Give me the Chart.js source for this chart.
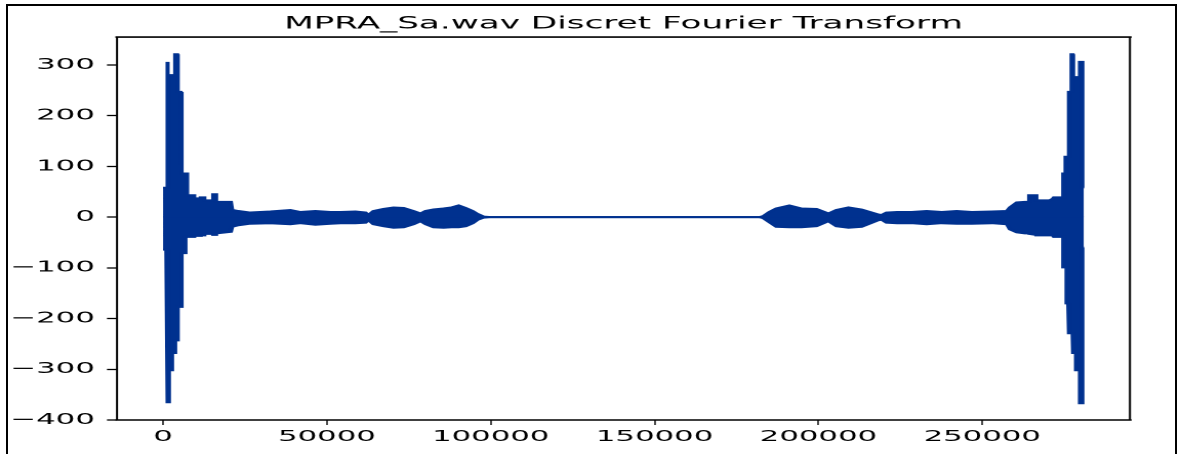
<!DOCTYPE html>
<html>
<head>
<meta charset="utf-8">
<script src="https://cdn.jsdelivr.net/npm/chart.js@4.4.1/dist/chart.umd.min.js"></script>
<style>
  html, body { margin: 0; padding: 0; background: #fff; overflow: hidden; }
  #stage { position: absolute; left: 0; top: 0; width: 576px; height: 454px; transform: scaleX(2.0503); transform-origin: 0 0; }
  #frame { position: absolute; left: 6px; top: 4px; width: 1171px; height: 520px; border: 2px solid #000; box-sizing: border-box; pointer-events: none; }
</style>
</head>
<body>
<div id="stage"><canvas id="c" width="576" height="454"></canvas></div>
<div id="frame"></div>
<script>
// ---- data (DFT envelope: bin index, upper / lower extent) ----
const chartTitle = 'MPRA_Sa.wav Discret Fourier Transform';
const binIndex = [
  0, 1000, 1001, 1450, 1451, 1530, 1531, 1800, 1801, 2750, 2751, 3550, 3551, 3780, 3781, 4290, 4291, 4590, 4591, 5310, 5311, 5820, 5821, 6840, 6841, 7350, 7351,
  9500, 9501, 11500, 11501, 12600, 12601, 15300, 15301, 16200, 16201, 20700, 21100, 22935,
  26605, 32721, 38837, 41895, 46482, 51069, 54127, 58714, 61772, 62689, 64218, 67276, 70334, 73392, 76450, 78591, 80120, 82566, 85624, 88000, 90211, 92352, 94493, 96021, 97856, 99996,
  181951, 183174, 185009, 187150, 191125, 194795, 199382, 203051, 205498, 209167, 213143, 218341, 219259, 220788, 224000, 228433, 233020, 237607, 242194, 246781, 252897, 257484,
  258401, 260542, 263000, 264300, 264301, 266500, 266501, 270600, 271500, 271856, 274700,
  274701, 275400, 275401, 275710, 275711, 276230, 276231, 276540, 276541, 277240, 277241, 277550, 277551, 277790, 277791, 278590, 278591, 279800, 279801, 280540, 280541, 281000
];
const envUpper = [
  58, 58, 306, 306, 306, 306, 280, 280, 280, 280, 280, 280, 321, 321, 321, 321, 247, 247, 247, 247, 119, 119, 86, 86, 86, 86, 43,
  43, 37, 37, 39, 39, 33, 33, 45, 45, 30, 30, 14, 12,
  9, 11, 14, 10, 12, 10, 10, 11, 9, 4, 12, 16, 19, 18, 12, 7, 12, 15, 17, 19, 23, 18, 12, 6, 1, 0,
  0, 2, 10, 17, 23, 17, 16, 7, 14, 19, 15, 5, 4, 9, 10, 10, 12, 10, 12, 10, 11, 12,
  19, 29, 30, 30, 43, 43, 33, 33, 36, 39, 39,
  86, 86, 119, 119, 119, 119, 247, 247, 247, 247, 321, 321, 321, 321, 276, 276, 276, 276, 306, 306, 58, 58
];
const envLower = [
  -64, -64, -306, -306, -365, -365, -365, -365, -302, -302, -268, -268, -268, -268, -243, -243, -243, -243, -177, -177, -98, -98, -71, -71, -39, -39, -39,
  -39, -37, -37, -36, -36, -33, -33, -35, -35, -32, -29, -19, -16,
  -13, -12, -14, -12, -15, -13, -12, -12, -11, -6, -14, -18, -21, -20, -14, -8, -14, -20, -21, -20, -20, -18, -12, -5, -1, 0,
  0, -2, -10, -19, -20, -20, -18, -8, -18, -21, -19, -6, -5, -11, -12, -12, -14, -12, -13, -13, -12, -14,
  -24, -30, -32, -32, -33, -35, -36, -36, -36, -39, -39,
  -99, -99, -99, -99, -170, -170, -170, -170, -229, -229, -229, -229, -268, -268, -268, -268, -302, -302, -367, -367, -60, -60
];
const xTickValues = [0, 50000, 100000, 150000, 200000, 250000];
const yTickValues = [-400, -300, -200, -100, 0, 100, 200, 300];
const xRange = [-14050, 295050];
const yRange = [-400, 355];

const lineColor = '#00318f';
const fontSpec = { family: 'DejaVu Sans', size: 15 };

const upperPts = binIndex.map((x, i) => ({ x: x, y: envUpper[i] }));
const lowerPts = binIndex.map((x, i) => ({ x: x, y: envLower[i] }));

const spines = {
  id: 'spines',
  afterDatasetsDraw(chart) {
    const { ctx, chartArea: { left, right, top, bottom } } = chart;
    ctx.save();
    ctx.strokeStyle = '#000';
    ctx.lineCap = 'square';
    ctx.lineWidth = 1.6;
    ctx.beginPath();
    ctx.moveTo(left, top); ctx.lineTo(right, top);
    ctx.moveTo(left, bottom); ctx.lineTo(right, bottom);
    ctx.stroke();
    ctx.lineWidth = 1.0;
    ctx.beginPath();
    ctx.moveTo(left, top); ctx.lineTo(left, bottom);
    ctx.moveTo(right, top); ctx.lineTo(right, bottom);
    ctx.stroke();
    ctx.restore();
  }
};

const fmt = v => (v < 0 ? '\u2212' + Math.abs(v) : String(v));
const seriesStyle = { borderColor: lineColor, backgroundColor: lineColor, borderWidth: 2, pointRadius: 0, tension: 0 };

new Chart(document.getElementById('c'), {
  type: 'line',
  data: {
    datasets: [
      Object.assign({ label: 'DFT upper', data: upperPts, fill: 'origin' }, seriesStyle),
      Object.assign({ label: 'DFT lower', data: lowerPts, fill: { value: 1.5 } }, seriesStyle)
    ]
  },
  options: {
    responsive: false,
    devicePixelRatio: 2,
    animation: false,
    layout: { padding: { left: 0, right: 24.9, top: 0, bottom: 0 } },
    plugins: {
      legend: { display: false },
      tooltip: { enabled: false },
      title: {
        display: true, text: chartTitle, fullSize: false, color: '#000',
        font: { family: 'DejaVu Sans', size: 16.7, weight: 'normal', lineHeight: 1.2 },
        padding: { top: 14, bottom: 3 }
      }
    },
    scales: {
      x: {
        type: 'linear', min: xRange[0], max: xRange[1],
        afterBuildTicks: s => { s.ticks = xTickValues.map(v => ({ value: v })); },
        afterFit: s => { s.height = 34; },
        ticks: { color: '#000', font: fontSpec, padding: 3, maxRotation: 0, autoSkip: false, callback: v => fmt(v) },
        grid: { drawOnChartArea: false, drawTicks: true, tickLength: 5, tickColor: '#000', tickWidth: 0.7 },
        border: { display: false }
      },
      y: {
        type: 'linear', min: yRange[0], max: yRange[1],
        afterBuildTicks: s => { s.ticks = yTickValues.map(v => ({ value: v })); },
        afterFit: s => { s.width = 57.06; },
        ticks: { color: '#000', font: fontSpec, padding: 5.9, autoSkip: false, callback: v => fmt(v) },
        grid: { drawOnChartArea: false, drawTicks: true, tickLength: 4.9, tickColor: '#000', tickWidth: 1.3 },
        border: { display: false }
      }
    }
  },
  plugins: [spines]
});
</script>
</body>
</html>
